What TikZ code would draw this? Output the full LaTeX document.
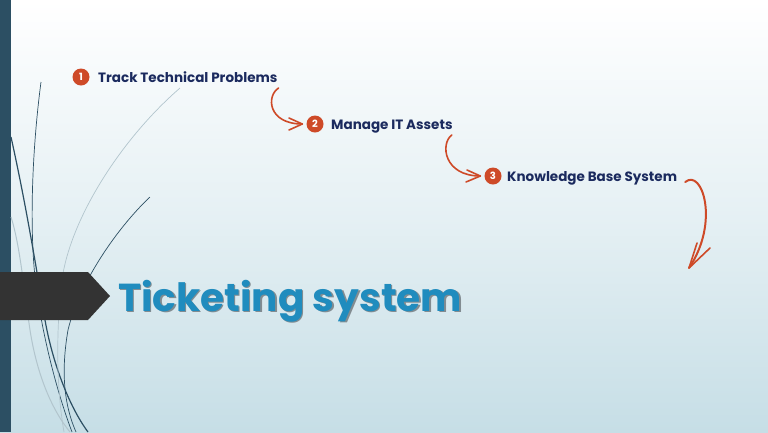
\documentclass[tikz,border=0pt]{standalone}
\usepackage{fontspec}
\newfontfamily\pop{Poppins}
\definecolor{bgbot}{RGB}{198,222,230}
\definecolor{barc}{RGB}{44,79,99}
\definecolor{tagc}{RGB}{51,51,51}
\definecolor{navy}{RGB}{27,42,94}
\definecolor{orng}{RGB}{206,74,40}
\definecolor{titleblue}{RGB}{32,140,190}
\definecolor{shadowc}{RGB}{130,140,145}
\definecolor{wispd}{RGB}{44,79,99}
\definecolor{wispl}{RGB}{178,197,205}
\newcommand{\shadowtext}[1]{\makebox[0pt][l]{\hspace{1.5pt}\raisebox{-1.5pt}{\color{shadowc}#1}}#1}
\begin{document}
\begin{tikzpicture}[x=1pt,y=-1pt,
  num/.style={circle,fill=orng,text=white,inner sep=0pt,minimum size=17pt,font=\pop\bfseries\fontsize{10}{10}\selectfont},
  item/.style={anchor=base west,inner sep=0pt,text=navy,font=\pop\bfseries\fontsize{13.5}{14}\selectfont},
  curl/.style={draw=orng,line width=1.6pt,line cap=round,line join=round},
  wd/.style={draw=wispd,line width=1.2pt},
  wdt/.style={draw=wispd,line width=0.7pt},
  wl/.style={draw=wispl,line width=1pt},
  titlefont/.style={font=\pop\bfseries\fontsize{39}{39}\selectfont}]
\useasboundingbox (0,0) rectangle (768,432);
% background
\shade[top color=white,bottom color=bgbot,middle color=white!55!bgbot] (0,0) rectangle (768,432);
% left bar
\fill[barc] (0,0) rectangle (11,432);
% wisps
\draw[wdt] (41,82) .. controls (32,150) and (28,240) .. (38,300) .. controls (45,345) and (58,395) .. (72,432);
\draw[wd] (11,137) .. controls (25,200) and (35,260) .. (45,320) .. controls (52,360) and (68,405) .. (88,432);
\draw[wl] (11,217) .. controls (20,245) and (24,290) .. (30,330) .. controls (37,375) and (52,410) .. (70,432);
\draw[wl,line width=0.7pt] (180,88) .. controls (120,140) and (70,220) .. (62,280) .. controls (57,320) and (55,380) .. (64,432);
\draw[wdt] (150,197) .. controls (120,225) and (80,280) .. (68,330) .. controls (62,365) and (62,400) .. (76,432);
% tag shape
\fill[tagc] (0,272) -- (88,272) -- (110,296) -- (88,320) -- (0,320) -- cycle;
% title
\node[titlefont,anchor=base west,inner sep=0pt,text=titleblue] (title) at (118,311) {\shadowtext{Ticketing system}};
% items
\node[num] (c1) at (81,77) {1};
\node[item] (t1) at (98,82) {Track Technical Problems};
\node[num] (c2) at (315,124) {2};
\node[item] (t2) at (331,129) {Manage IT Assets};
\node[num] (c3) at (493,176) {3};
\node[item] (t3) at (507,181) {Knowledge Base System};
% curly arrows
\coordinate (a1s) at ([xshift=1pt,yshift=-6pt]t1.base east);
\coordinate (a1t) at ([xshift=-4pt]c2.west);
\draw[curl] (a1s) .. controls (266,96) and (268,124) .. (a1t);
\draw[curl] (289,118) -- (a1t) -- (289,130);
\coordinate (a2s) at ([xshift=-1pt,yshift=-6pt]t2.base east);
\coordinate (a2t) at ([xshift=-4pt]c3.west);
\draw[curl] (a2s) .. controls (440,144) and (444,176) .. (a2t);
\draw[curl] (467,170) -- (a2t) -- (466,182);
\coordinate (a3s) at ([xshift=8pt,yshift=-1pt]t3.base east);
\coordinate (a3t) at (689,268);
\draw[curl,line width=2pt] (a3s) .. controls (702,168) and (720,222) .. (a3t);
\draw[curl] (697,243) -- (a3t) -- (710,248);
\end{tikzpicture}
\end{document}
